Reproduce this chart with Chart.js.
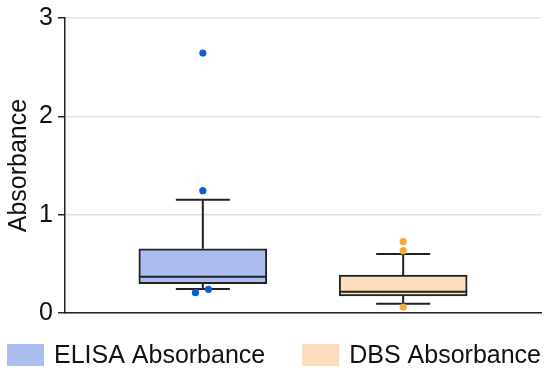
<!DOCTYPE html>
<html>
<head>
<meta charset="utf-8">
<script src="https://cdn.jsdelivr.net/npm/chart.js@4.4.1/dist/chart.umd.min.js"></script>
<style>
  html, body { margin: 0; padding: 0; background: #fff; }
  #wrap { width: 550px; height: 375px; }
</style>
</head>
<body>
<div id="wrap"><canvas id="boxChart"></canvas></div>
<script>
const groups = ['ELISA Absorbance', 'DBS Absorbance'];
const positions = [1, 2];
// [whisker low, Q1, median, Q3, whisker high]
const elisaStats = [0.244, 0.298, 0.368, 0.654, 1.153];
const dbsStats = [0.094, 0.174, 0.217, 0.385, 0.60];
const elisaOutliers = [2.645, 1.245, 0.207, 0.241];
const elisaOutlierPos = [1, 1, 0.963, 1.028];
const dbsOutliers = [0.727, 0.634, 0.06];
const yTicks = [0, 1, 2, 3];

const stats = [elisaStats, dbsStats];
const fills = ['#abbdee', '#fddcbd'];
const dots = ['#0b5fd3', '#f6a93b'];
const boxWidth = 128;
const capWidth = 54;
const fontFamily = "'Liberation Sans', Arial, sans-serif";

Chart.defaults.font.family = fontFamily;
Chart.defaults.color = '#111';

const whiskers = {
  id: 'whiskers',
  beforeDatasetsDraw(chart) {
    const { ctx, scales: { x, y } } = chart;
    ctx.save();
    ctx.strokeStyle = '#222';
    ctx.lineWidth = 2;
    stats.forEach((s, i) => {
      const cx = x.getPixelForValue(positions[i]);
      ctx.beginPath();
      ctx.moveTo(cx, y.getPixelForValue(s[0]));
      ctx.lineTo(cx, y.getPixelForValue(s[1]));
      ctx.moveTo(cx, y.getPixelForValue(s[3]));
      ctx.lineTo(cx, y.getPixelForValue(s[4]));
      [s[0], s[4]].forEach(v => {
        const py = y.getPixelForValue(v);
        ctx.moveTo(cx - capWidth / 2, py);
        ctx.lineTo(cx + capWidth / 2, py);
      });
      ctx.stroke();
    });
    ctx.restore();
  },
  afterDatasetDraw(chart, args) {
    if (args.index > 1) return;
    const { ctx, scales: { x, y } } = chart;
    const s = stats[args.index];
    const cx = x.getPixelForValue(positions[args.index]);
    const py = y.getPixelForValue(s[2]);
    ctx.save();
    ctx.strokeStyle = '#222';
    ctx.lineWidth = 2;
    ctx.beginPath();
    ctx.moveTo(cx - boxWidth / 2, py);
    ctx.lineTo(cx + boxWidth / 2, py);
    ctx.stroke();
    ctx.restore();
  }
};

// legend drawn by hand: the built-in one can't get the wide gap between items
const bottomLegend = {
  id: 'bottomLegend',
  afterDraw(chart) {
    const { ctx } = chart;
    const sw = 37, sh = 22, gap = 10, itemGap = 37;
    ctx.save();
    ctx.font = '25px ' + fontFamily;
    ctx.textBaseline = 'middle';
    const widths = groups.map(g => ctx.measureText(g).width);
    const total = widths.reduce((a, w) => a + sw + gap + w, 0) + itemGap * (groups.length - 1);
    let x = (chart.width - total) / 2 - 1;
    const top = chart.height - 31;
    groups.forEach((g, i) => {
      ctx.fillStyle = fills[i];
      ctx.fillRect(x, top, sw, sh);
      ctx.fillStyle = '#111';
      ctx.fillText(g, x + sw + gap, top + sh / 2 + 1);
      x += sw + gap + widths[i] + itemGap;
    });
    ctx.restore();
  }
};

const boxDataset = (i) => ({
  type: 'bar',
  label: groups[i],
  data: [{ x: positions[i], y: [stats[i][1], stats[i][3]] }],
  backgroundColor: fills[i],
  borderColor: '#222',
  borderWidth: 2,
  borderSkipped: false,
  barThickness: boxWidth,
  grouped: false,
  order: 2
});

const dotDataset = (vals, pos, i) => ({
  type: 'scatter',
  label: groups[i] + ' outliers',
  data: vals.map((v, k) => ({ x: pos[k], y: v })),
  backgroundColor: dots[i],
  borderWidth: 0,
  pointRadius: 3.6,
  order: 1
});

new Chart(document.getElementById('boxChart'), {
  type: 'bar',
  data: {
    datasets: [
      boxDataset(0),
      boxDataset(1),
      dotDataset(elisaOutliers, elisaOutlierPos, 0),
      dotDataset(dbsOutliers, dbsOutliers.map(() => positions[1]), 1)
    ]
  },
  options: {
    responsive: true,
    maintainAspectRatio: false,
    animation: false,
    layout: {
      padding: { top: 0, right: 9, bottom: 62, left: 4 }
    },
    scales: {
      x: {
        type: 'linear',
        offset: false,
        min: 0.312,
        max: 2.688,
        grid: { display: false },
        border: { color: '#222', width: 1.5 },
        ticks: { display: false },
        afterFit: (s) => { s.height = 0; }
      },
      y: {
        min: 0,
        max: 3,
        afterBuildTicks: (s) => { s.ticks = yTicks.map(v => ({ value: v })); },
        afterFit: (s) => { s.width = 61; },
        grid: { color: '#e2e2e2', tickColor: '#222', tickLength: 7, lineWidth: 1.5 },
        border: { color: '#222', width: 1.5 },
        ticks: { padding: 5, font: { size: 25, lineHeight: 1.05 }, color: '#111' },
        title: { display: true, text: 'Absorbance', font: { size: 25 }, color: '#111', padding: { top: 0, bottom: 4 } }
      }
    },
    plugins: {
      tooltip: { enabled: false },
      legend: { display: false }
    }
  },
  plugins: [whiskers, bottomLegend]
});
</script>
</body>
</html>
